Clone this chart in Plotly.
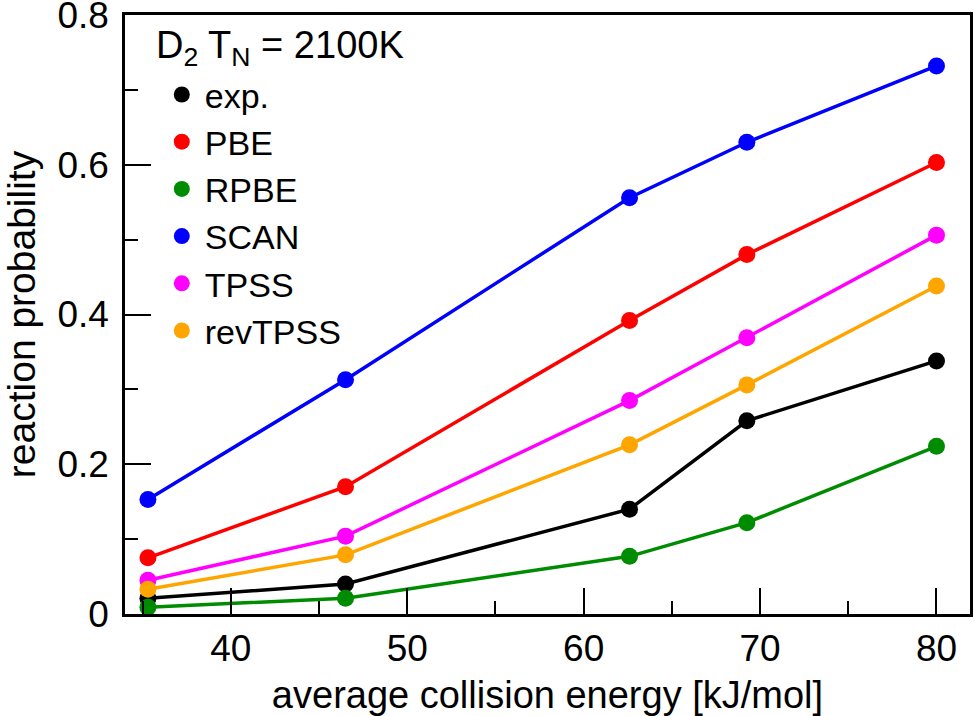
import plotly.graph_objects as go

# ── Data ──────────────────────────────────────────────────────────────────
energy = [35.3, 46.5, 62.6, 69.25, 80.0]

series_names = ["exp.", "PBE", "RPBE", "SCAN", "TPSS", "revTPSS"]
exp_vals     = [0.021, 0.040, 0.140, 0.258, 0.338]
pbe_vals     = [0.075, 0.170, 0.392, 0.480, 0.603]
rpbe_vals    = [0.009, 0.021, 0.077, 0.122, 0.224]
scan_vals    = [0.153, 0.313, 0.556, 0.630, 0.732]
tpss_vals    = [0.045, 0.104, 0.285, 0.369, 0.506]
revtpss_vals = [0.033, 0.079, 0.226, 0.306, 0.438]

y_ticks = [0, 0.2, 0.4, 0.6, 0.8]
y_ticktext = ["0", "0.2", "0.4", "0.6", "0.8"]

# ── Style ─────────────────────────────────────────────────────────────────
FONT = "Liberation Sans, Arial, sans-serif"
COLORS = ["#000000", "#ff0000", "#008c00", "#0000ff", "#ff00ff", "#ffa500"]

fig = go.Figure()

all_vals = [exp_vals, pbe_vals, rpbe_vals, scan_vals, tpss_vals, revtpss_vals]
for name, vals, color in zip(series_names, all_vals, COLORS):
    # line + markers drawn from data, legend entry shows the marker only
    fig.add_trace(go.Scatter(
        x=energy, y=vals, mode="lines+markers",
        line=dict(color=color, width=3.5),
        marker=dict(color=color, size=17),
        name=name, legendgroup=name, showlegend=False,
    ))
    fig.add_trace(go.Scatter(
        x=[None], y=[None], mode="markers",
        marker=dict(color=color, size=17),
        name=name, legendgroup=name, showlegend=True,
    ))

axis_common = dict(
    showgrid=False, zeroline=False, automargin=False,
    showline=True, linecolor="black", linewidth=2.5, mirror=True,
    ticks="inside", ticklen=26, tickwidth=2, tickcolor="black",
    tickfont=dict(size=37, family=FONT, color="black"),
    ticklabeloverflow="allow",
)

fig.update_xaxes(
    range=[34, 81.9], tick0=0, dtick=10,
    minor=dict(ticks="inside", ticklen=13, tickwidth=2, dtick=5, tick0=0, tickcolor="black"),
    title=dict(text="average collision energy [kJ/mol]",
               font=dict(size=38, family=FONT, color="black"), standoff=18),
    **axis_common,
)
fig.update_yaxes(
    range=[0, 0.8], tickmode="array", tickvals=y_ticks, ticktext=y_ticktext,
    minor=dict(ticks="inside", ticklen=13, tickwidth=2,
               tickvals=[0.1, 0.3, 0.5, 0.7], tickcolor="black"),
    title=dict(text="reaction probability",
               font=dict(size=39, family=FONT, color="black"), standoff=22),
    ticklabelstandoff=6,
    **axis_common,
)

# legend title as free text above the entries
fig.add_annotation(
    x=0.034, y=0.945, xref="paper", yref="paper",
    xanchor="left", yanchor="middle", showarrow=False,
    text="D<sub>2</sub> T<sub>N</sub> = 2100K",
    font=dict(size=38, family=FONT, color="black"),
)

fig.update_layout(
    width=975, height=716,
    margin=dict(l=125, r=5, t=15, b=102),
    paper_bgcolor="white", plot_bgcolor="white",
    font=dict(family=FONT, color="black"),
    legend=dict(
        x=0.040, y=0.915, xanchor="left", yanchor="top",
        bgcolor="rgba(0,0,0,0)",
        font=dict(size=34, family=FONT, color="black"),
        itemwidth=36, tracegroupgap=0,
    ),
)

# page body margin off so the 975x716 figure fills the window exactly
fig.write_html(
    "out.html",
    config={"displayModeBar": False},
    post_script="document.body.style.margin='0';",
)
